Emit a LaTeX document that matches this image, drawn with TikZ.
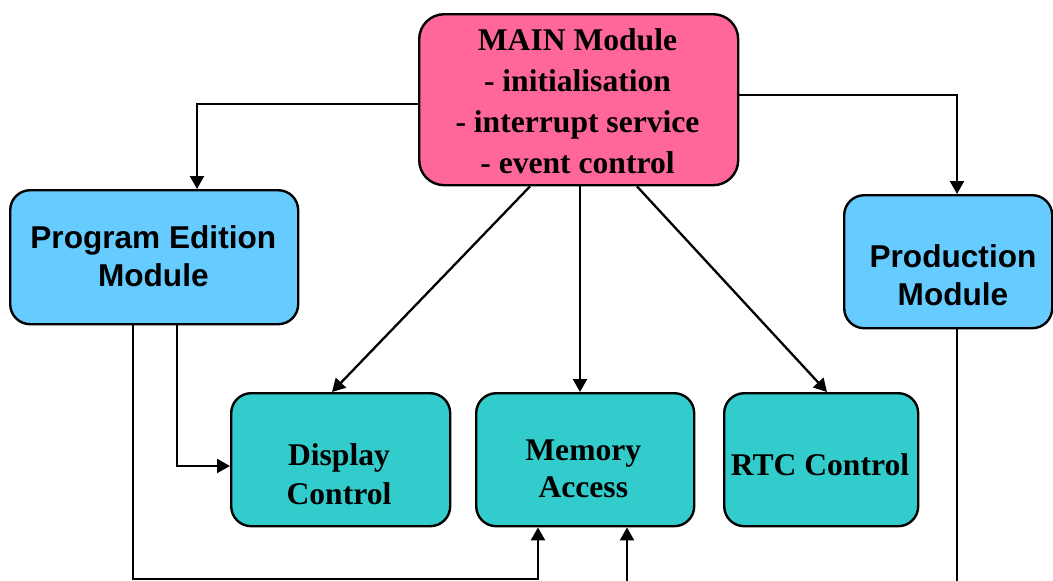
\documentclass[tikz,border=0pt]{standalone}
\usepackage{fontspec}
\setmainfont{Liberation Serif}
\setsansfont{Liberation Sans}
\usetikzlibrary{arrows.meta,calc}
\definecolor{mainpink}{HTML}{FF6699}
\definecolor{modblue}{HTML}{66CCFF}
\definecolor{subteal}{HTML}{33CCCC}
\begin{document}
\begin{tikzpicture}[x=1pt,y=-1pt,
  box/.style={draw=black,line width=2.4pt,rounded corners=20pt,inner sep=0pt,anchor=north west},
  serif/.style={font=\fontsize{31.6}{#1}\selectfont\bfseries\rmfamily,align=center,inner sep=0pt},
  sans/.style={font=\fontsize{31.6}{38}\selectfont\bfseries\sffamily,align=center,inner sep=0pt},
  arr/.style={draw=black,line width=2.3pt,-{Triangle[length=13pt,width=14pt]}},
  ln/.style={draw=black,line width=2.3pt}
]
\useasboundingbox (0,0) rectangle (1053,581);
% boxes
\node[box,fill=mainpink,rounded corners=25pt,minimum width=319pt,minimum height=171pt] (main) at (418,13) {};
\node[box,fill=modblue,minimum width=288pt,minimum height=134pt] (pe) at (9,189) {};
\node[box,fill=modblue,minimum width=208pt,minimum height=133pt] (prod) at (843,194) {};
\node[box,fill=subteal,minimum width=219pt,minimum height=133pt] (disp) at (230,392) {};
\node[box,fill=subteal,minimum width=218pt,minimum height=133pt] (mem) at (475,392) {};
\node[box,fill=subteal,minimum width=194pt,minimum height=133pt] (rtc) at (723,392) {};
% texts
\node[serif=41.3] (maintext) at (577.5,101.2) {MAIN Module\\- initialisation\\- interrupt service\\- event control};
\node[sans] (petext) at (153.3,256.7) {Program Edition\\Module};
\node[sans] (prodtext) at (953,275.7) {Production\\Module};
\node[serif=39] (disptext) at (339,473.8) {Display\\Control};
\node[serif=37.4] (memtext) at (583.3,469) {Memory\\Access};
\node[serif=38] (rtctext) at (820,464.5) {RTC Control};
% connectors
\coordinate (loopcorner) at (538,579);
\coordinate (inbottom) at (627,581);
\coordinate (outbottom) at (957,581);
\draw[arr] (main.west |- 0,104) -| (pe.north -| 197,0);
\draw[arr] (main.east |- 0,95) -| (prod.north -| 957,0);
\draw[arr] (main.south -| 530,0) -- (disp.north -| 332,0);
\draw[arr] (main.south -| 580,0) -- (mem.north -| 580,0);
\draw[arr] (main.south -| 637,0) -- (rtc.north -| 827,0);
\draw[arr] (pe.south -| 177,0) |- (disp.west |- 0,466);
\draw[arr] (pe.south -| 133,0) |- (loopcorner) -- (mem.south -| 538,0);
\draw[arr] (inbottom) -- (mem.south -| 627,0);
\draw[ln] (prod.south -| 957,0) -- (outbottom);
\end{tikzpicture}
\end{document}
